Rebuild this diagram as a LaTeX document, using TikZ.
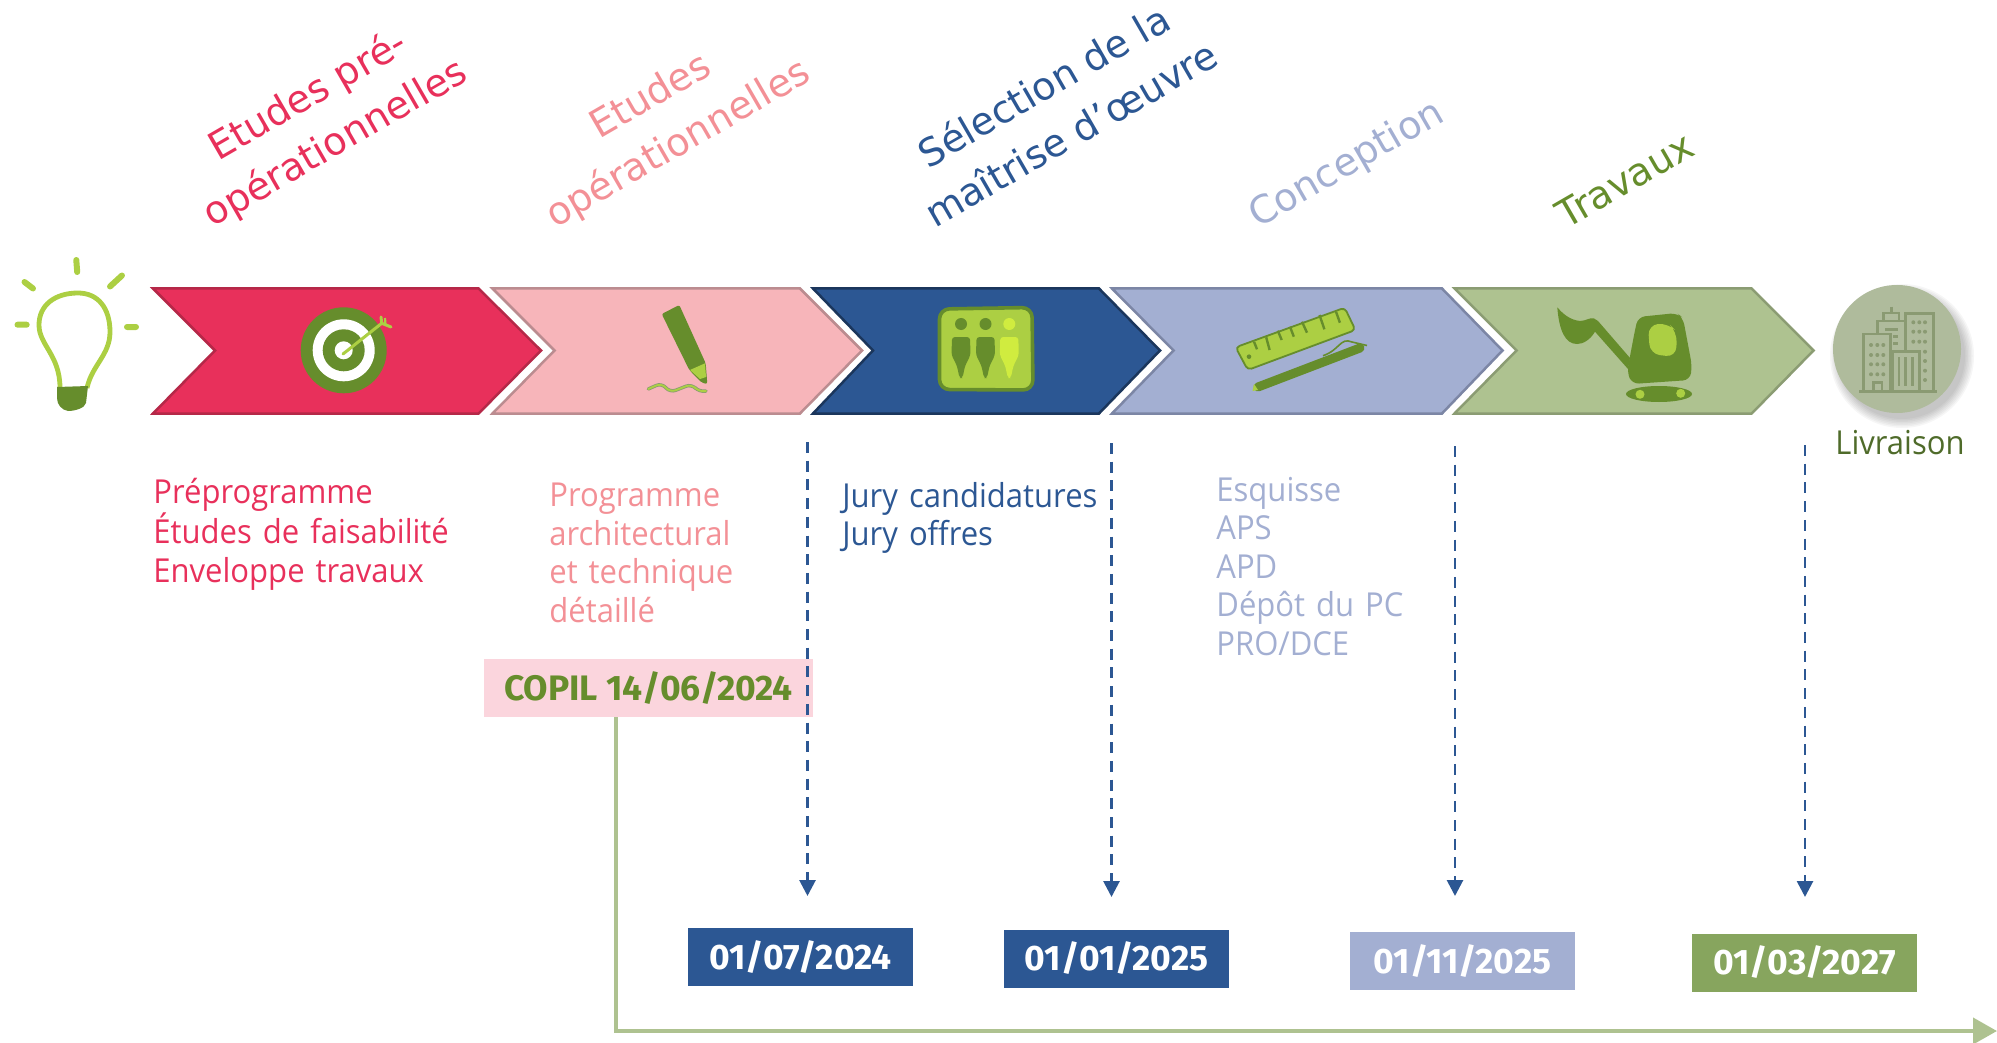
\documentclass[tikz,border=0pt]{standalone}
\usepackage{fontspec}
\setmainfont[FakeStretch=0.94]{Open Sans}
\newfontfamily\titlefont{DejaVu Sans}
\newfontfamily\boldfont{Fira Sans}
\usetikzlibrary{arrows.meta}
\definecolor{cRed}{HTML}{E8305B}
\definecolor{cRedL}{HTML}{B52848}
\definecolor{cPink}{HTML}{F7B5BA}
\definecolor{cPinkL}{HTML}{BB8C90}
\definecolor{cPinkT}{HTML}{F39096}
\definecolor{cCopil}{HTML}{FBD5DD}
\definecolor{cBlue}{HTML}{2C5793}
\definecolor{cBlueL}{HTML}{1B365C}
\definecolor{cPeri}{HTML}{A3AFD2}
\definecolor{cPeriL}{HTML}{7C86A5}
\definecolor{cGreen}{HTML}{AEC290}
\definecolor{cGreenL}{HTML}{8B9C73}
\definecolor{cDate}{HTML}{87A55E}
\definecolor{cDark}{HTML}{668D2C}
\definecolor{cLight}{HTML}{ACCF43}
\definecolor{cLightB}{HTML}{D0EC3F}
\definecolor{cCircle}{HTML}{AFBB9C}
\definecolor{cBuild}{HTML}{8A9A72}
\definecolor{cLiv}{HTML}{4F6B2A}
\tikzset{
  chevron/.style={line width=1.25pt,line join=miter},
  titletxt/.style={font=\titlefont\fontsize{19.2}{27.5}\selectfont,align=center,rotate=30,inner sep=0pt},
  listtxt/.style={font=\fontsize{16.5}{19.25}\selectfont,align=left,text width=200pt,anchor=base west,inner sep=0pt},
  boldtxt/.style={font=\boldfont\bfseries\fontsize{17.7}{20}\selectfont},
  datebox/.style={boldtxt,minimum width=112.5pt,minimum height=29pt,inner sep=0pt,text=white},
  dashedarrow/.style={draw=cBlue,line width=1.4pt,dash pattern=on 5.5pt off 3.85pt,-{Triangle[length=8pt,width=8pt,fill=cBlue]}},
  timeline/.style={draw=cGreen,line width=2pt,-{Triangle[length=12pt,width=13pt]}},
  bld/.style={draw=cBuild,line width=1.3pt},
  bdot/.style={fill=cBuild},
}
\begin{document}
\begin{tikzpicture}[x=0.5pt,y=-0.5pt]
\useasboundingbox (0,0) rectangle (1997,1043);
% chevrons
\draw[chevron,fill=cRed,draw=cRedL]  (153,288.5) -- (478.6,288.5) -- (541,350.5) -- (478.6,413.5) -- (153,413.5) -- (215,350.5) -- cycle;
\draw[chevron,fill=cPink,draw=cPinkL] (492.5,288.5) -- (800,288.5) -- (862,350.5) -- (800,413.5) -- (492.5,413.5) -- (554.5,350.5) -- cycle;
\draw[chevron,fill=cBlue,draw=cBlueL] (813,288.5) -- (1099,288.5) -- (1160,350.5) -- (1099,413.5) -- (813,413.5) -- (873,350.5) -- cycle;
\draw[chevron,fill=cPeri,draw=cPeriL] (1112,288.5) -- (1442,288.5) -- (1502.5,350.5) -- (1442,413.5) -- (1112,413.5) -- (1173.5,350.5) -- cycle;
\draw[chevron,fill=cGreen,draw=cGreenL] (1454.5,288.5) -- (1751.7,288.5) -- (1813.5,350.5) -- (1751.7,413.5) -- (1454.5,413.5) -- (1516.5,350.5) -- cycle;
% bulb
\draw[cLight,line width=3pt,line cap=round] (76.3,260) -- (77.2,272) (122,275.5) -- (110,286.5) (24.5,282) -- (33,288.5) (17.5,324.7) -- (26.7,324.7) (127,327) -- (136,327);
\draw[cLight,line width=2.4pt] (60,388) .. controls (60,355) and (39,345) .. (39,325) .. controls (39,305) and (55,293) .. (78,293) .. controls (98,293) and (110,308) .. (110,332) .. controls (110,355) and (92,365) .. (87,388);
\fill[cDark] (57,387) -- (88,386) -- (86,403) .. controls (85,408) and (75,411) .. (68,411) .. controls (62,410) and (57,405) .. (57,398) -- cycle;
% target
\fill[cDark] (343.7,350.3) circle[radius=43];
\fill[white] (343.7,350.3) circle[radius=31];
\fill[cDark] (343.7,350.3) circle[radius=21];
\fill[white] (343.7,350.3) circle[radius=9];
\draw[cLight,line width=1.5pt,line cap=round] (343,354) -- (381.7,323.3);
\draw[cLight,line width=1.5pt,line cap=round] (381,317) -- (381.7,323.3) -- (391,327);
\draw[cLight,line width=1.1pt] (385,318) -- (385.5,325);
% pencil
\fill[cDark,rounded corners=1pt] (661.7,314) -- (679.3,305) -- (705.7,363.3) -- (707.3,384) -- (701.7,382.7) -- (689.3,370) -- cycle;
\fill[cLight] (690,370) -- (705,363.3) -- (706,377) -- (700,379) -- cycle;
\draw[cGreenL,line width=1.7pt,line cap=round,rounded corners=3pt] (648.3,389) -- (661.7,383) -- (670,392.5) -- (691.7,384) -- (699,392) -- (706,391);
\draw[cLight,line width=0.9pt,line cap=round,rounded corners=3pt] (648.3,389) -- (661.7,383) -- (670,392.5) -- (691.7,384) -- (699,392) -- (706,391);
% jury icon
\draw[cDark,fill=cLight,line width=1.8pt,rounded corners=5pt] (939.5,309) -- (1032,307.5) -- (1033,390) -- (939.5,389.5) -- cycle;
\foreach \cx/\col in {961/cDark,985.5/cDark,1009.3/cLightB}{
  \fill[\col] (\cx,324) circle[radius=6];
  \fill[\col,rounded corners=1.5pt] (\cx-9,337) -- (\cx+9,337) -- (\cx+9.5,355) -- (\cx+4,366) -- (\cx+1.5,378) -- (\cx-1.5,378) -- (\cx-4,366) -- (\cx-9.5,355) -- cycle;
}
% ruler and pen
\draw[cDark,fill=cLight,line width=0.9pt,rounded corners=2pt] (1235.6,347.3) -- (1344.7,307.7) -- (1355.4,330) -- (1247.8,370) -- cycle;
\draw[cDark,line width=1.2pt] (1254,341.7) -- (1257,349.3) (1266.2,337.3) -- (1269.6,350) (1277.8,330.7) -- (1281.7,340) (1290,326.7) -- (1293.8,336.7) (1302,321.7) -- (1307,332.7) (1319.5,315) -- (1324.4,329.3) (1336,311.7) -- (1339.9,322.7);
\fill[cDark] (1249,356.7) circle[radius=2.3];
\draw[cDark,line width=4.5pt,line cap=round] (1258,387) -- (1360,348);
\fill[cLight] (1254,384) -- (1258,390) -- (1252.5,391) -- cycle;
\draw[cDark,line width=0.8pt] (1323,355.7) .. controls (1340,350) and (1340,337) .. (1352,342) -- (1367,345.5);
% excavator
\fill[cDark] (1557.3,307.3) .. controls (1563,314) and (1570,320) .. (1580,321) .. controls (1586,321) and (1590,317) .. (1594,318.5) -- (1598,321) -- (1630,358) -- (1628,369) -- (1595,331.7) .. controls (1590,340) and (1583,344) .. (1577,344) .. controls (1565,344) and (1559,330) .. (1557.3,307.3) -- cycle;
\fill[cDark,rounded corners=3.5pt] (1635,330) -- (1638,317) -- (1677,313) -- (1683,318) -- (1692,366) -- (1690,380) -- (1632,384) -- (1627,372) -- cycle;
\fill[cLight,rounded corners=5pt] (1648,325) -- (1668,323) -- (1677,332) -- (1676,357) -- (1650,354) -- cycle;
\fill[cDark] (1659,394) ellipse[x radius=33,y radius=8];
\fill[cLight] (1640,394.3) circle[radius=4.5];
\fill[cLight] (1680.7,393.3) circle[radius=4.5];
% livraison circle
\foreach \r in {72,70.5,69,67.5,66,64.5,63}{\fill[black,opacity=0.035] (1902,356) circle[radius=\r];}
\fill[cCircle] (1897,349) circle[radius=64];
\draw[bld] (1859.3,391.3) -- (1937.3,391.3);
\draw[bld] (1863.3,391.3) -- (1863.3,334) -- (1890.7,334) -- (1890.7,391.3);
\draw[bld] (1877.3,334) -- (1877.3,321) -- (1905,321);
\draw[bld] (1883.3,321) -- (1883.3,313) -- (1899,313) -- (1899,321);
\draw[bld] (1891.3,306.7) -- (1891.3,313);
\draw[bld] (1905.7,351.7) -- (1905.7,313.3) -- (1933.3,313.3) -- (1933.3,391.3);
\draw[bld] (1892.7,391.3) -- (1892.7,351.7) -- (1919.3,351.7) -- (1919.3,391.3);
\draw[bld] (1899,357) -- (1899,386) (1905.7,357) -- (1905.7,386) (1912.3,357) -- (1912.3,386);
\draw[bld] (1873.3,391.3) -- (1873.3,382.7) -- (1882,382.7) -- (1882,391.3);
\draw[bld] (1885,329.3) -- (1898.3,329.3) (1893,336.7) -- (1898.3,336.7) (1893,343.3) -- (1898.3,343.3);
\foreach \px in {1871,1877.3,1883.3}{\foreach \py in {345,355,364.3,374.3}{\fill[bdot] (\px,\py) circle[radius=2];}}
\foreach \px in {1913.3,1919.3,1925}{\foreach \py in {322.3,331.7,341.7}{\fill[bdot] (\px,\py) circle[radius=2];}}
\foreach \py in {351.7,361,370.7,380}{\fill[bdot] (1925,\py) circle[radius=2];}
% titles
\node[titletxt,text=cRed]   (t1) at (322,120) {Etudes pré-\\opérationnelles};
\node[titletxt,text=cPinkT] (t2) at (665,121) {Etudes\\opérationnelles};
\node[titletxt,text=cBlue]  (t3) at (1057,109) {Sélection de la\\maîtrise d’œuvre};
\node[titletxt,text=cPeri]  (t4) at (1347,165) {Conception};
\node[titletxt,text=cDark]  (t5) at (1625,180) {Travaux};
% lists
\node[listtxt,text=cRed]    (l1) at (153,503) {Préprogramme\\Études de faisabilité\\Enveloppe travaux};
\node[listtxt,text=cPinkT]  (l2) at (549,506.7) {Programme\\architectural\\et technique\\détaillé};
\node[listtxt,text=cBlue]   (l3) at (842,507) {Jury candidatures\\Jury offres};
\node[listtxt,text=cPeri]   (l4) at (1216,501) {Esquisse\\APS\\APD\\Dépôt du PC\\PRO/DCE};
\node[listtxt,text=cLiv,text width=80pt] (liv) at (1835,454) {Livraison};
% copil
\node[boldtxt,fill=cCopil,text=cDark,minimum width=164.5pt,minimum height=29pt,inner sep=0pt] (copil) at (648.5,688) {COPIL 14/06/2024};
% dates
\node[datebox,fill=cBlue] (d1) at (800.5,957) {01/07/2024};
\node[datebox,fill=cBlue] (d2) at (1116.5,958.5) {01/01/2025};
\node[datebox,fill=cPeri] (d3) at (1462.5,961) {01/11/2025};
\node[datebox,fill=cDate] (d4) at (1804.5,962.5) {01/03/2027};
% dashed arrows
\coordinate (a1s) at (807.5,442); \coordinate (a1e) at (807.5,896);
\coordinate (a2s) at (1111.5,443); \coordinate (a2e) at (1111.5,897);
\coordinate (a3s) at (1455,446); \coordinate (a3e) at (1455,896);
\coordinate (a4s) at (1805,445); \coordinate (a4e) at (1805,897);
\draw[dashedarrow] (a1s) -- (a1e);
\draw[dashedarrow] (a2s) -- (a2e);
\draw[dashedarrow] (a3s) -- (a3e);
\draw[dashedarrow] (a4s) -- (a4e);
% timeline
\coordinate (tlx) at (616,717);
\coordinate (tle) at (1997,1031);
\draw[timeline] (tlx) |- (tle);
\end{tikzpicture}
\end{document}
